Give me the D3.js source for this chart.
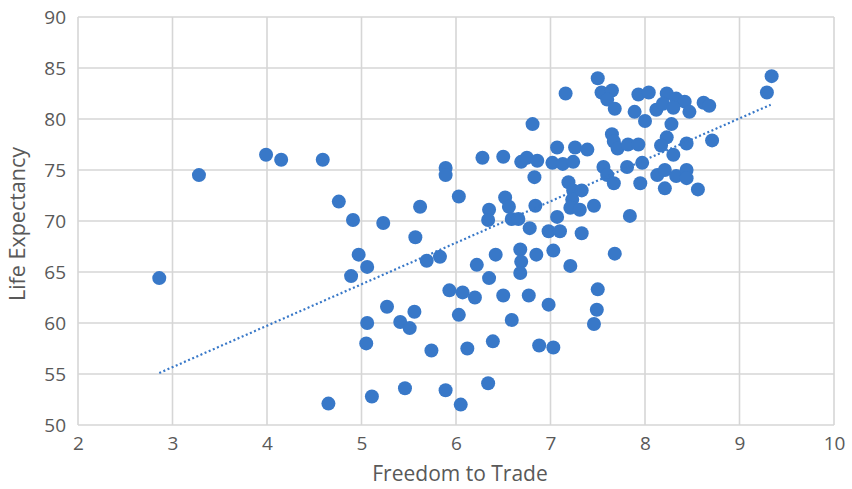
<!DOCTYPE html>
<html>
<head>
<meta charset="utf-8">
<script src="https://cdn.jsdelivr.net/npm/d3@7"></script>
<style>
  html, body { margin: 0; padding: 0; background: #fff; }
  svg { display: block; }
  text { font-family: "Open Sans", "Noto Sans", sans-serif; fill: #595959; }
</style>
</head>
<body>
<svg id="chart" width="852" height="489"></svg>
<script>
// Freedom to Trade (x) vs Life Expectancy (y)
const freedom = [
  2.86, 3.28, 3.99, 4.15, 4.59, 4.65, 4.76, 4.91, 4.89, 4.97,
  5.06, 5.06, 5.05, 5.11, 5.23, 5.27, 5.41, 5.51, 5.56, 5.46,
  5.57, 5.62, 5.74, 5.69, 5.83, 5.89, 5.89, 5.89, 5.93, 6.03,
  6.03, 6.05, 6.07, 6.12, 6.20, 6.22, 6.28, 6.35, 6.34, 6.35,
  6.34, 6.39, 6.42, 6.50, 6.50, 6.52, 6.56, 6.59, 6.66, 6.59,
  6.68, 6.69, 6.68, 6.69, 6.75, 6.83, 6.86, 6.81, 6.84, 6.78,
  6.77, 6.85, 6.88, 7.03, 6.98, 7.03, 6.98, 7.10, 7.07, 7.07,
  7.02, 7.13, 7.16, 7.19, 7.21, 7.24, 7.23, 7.21, 7.31, 7.26,
  7.24, 7.33, 7.33, 7.39, 7.46, 7.50, 7.54, 7.65, 7.60, 7.68,
  7.93, 8.04, 7.89, 8.00, 8.12, 8.23, 8.33, 8.42, 8.19, 8.30,
  8.47, 8.28, 8.62, 8.68, 9.34, 9.29, 8.71, 8.44, 8.23, 8.17,
  8.30, 7.65, 7.67, 7.71, 7.82, 7.93, 7.56, 7.60, 7.67, 7.81,
  7.97, 7.95, 8.13, 8.21, 8.21, 8.33, 8.44, 8.44, 8.56, 7.84,
  7.68, 7.50, 7.49, 7.46
];
const lifeExp = [
  64.4, 74.5, 76.5, 76.0, 76.0, 52.1, 71.9, 70.1, 64.6, 66.7,
  65.5, 60.0, 58.0, 52.8, 69.8, 61.6, 60.1, 59.5, 61.1, 53.6,
  68.4, 71.4, 57.3, 66.1, 66.5, 75.2, 74.5, 53.4, 63.2, 72.4,
  60.8, 52.0, 63.0, 57.5, 62.5, 65.7, 76.2, 71.1, 70.1, 64.4,
  54.1, 58.2, 66.7, 76.3, 62.7, 72.3, 71.4, 70.2, 70.2, 60.3,
  67.2, 66.0, 64.9, 75.8, 76.2, 74.3, 75.9, 79.5, 71.5, 69.3,
  62.7, 66.7, 57.8, 57.6, 61.8, 67.1, 69.0, 69.0, 70.4, 77.2,
  75.7, 75.6, 82.5, 73.8, 65.6, 73.0, 72.1, 71.3, 71.1, 77.2,
  75.8, 73.0, 68.8, 77.0, 71.5, 84.0, 82.6, 82.8, 81.9, 81.0,
  82.4, 82.6, 80.7, 79.8, 80.9, 82.5, 82.0, 81.7, 81.5, 81.1,
  80.7, 79.5, 81.6, 81.3, 84.2, 82.6, 77.9, 77.6, 78.2, 77.4,
  76.5, 78.5, 77.8, 77.1, 77.5, 77.5, 75.3, 74.5, 73.7, 75.3,
  75.7, 73.7, 74.5, 75.0, 73.2, 74.4, 75.0, 74.2, 73.1, 70.5,
  66.8, 63.3, 61.3, 59.9
];
// linear trendline end points (x, y)
const trendX = [2.86, 9.33];
const trendY = [55.1, 81.4];

const xTicks = [2, 3, 4, 5, 6, 7, 8, 9, 10];
const yTicks = [50, 55, 60, 65, 70, 75, 80, 85, 90];
const xTitle = "Freedom to Trade";
const yTitle = "Life Expectancy";

const W = 852, H = 489;
const m = { left: 78, right: 18, top: 17, bottom: 64 };
const iw = W - m.left - m.right, ih = H - m.top - m.bottom;

const svg = d3.select("#chart");
const g = svg.append("g").attr("transform", `translate(${m.left},${m.top})`);

const x = d3.scaleLinear().domain([2, 10]).range([0, iw]);
const y = d3.scaleLinear().domain([50, 90]).range([ih, 0]);

const gridColor = "#d6d6d6";

// vertical gridlines
g.append("g").selectAll("line").data(xTicks).join("line")
  .attr("x1", d => x(d)).attr("x2", d => x(d))
  .attr("y1", 0).attr("y2", ih)
  .attr("stroke", gridColor).attr("stroke-width", 1.6);
// horizontal gridlines
g.append("g").selectAll("line").data(yTicks).join("line")
  .attr("x1", 0).attr("x2", iw)
  .attr("y1", d => y(d)).attr("y2", d => y(d))
  .attr("stroke", gridColor).attr("stroke-width", 1.6);

// axes (labels only)
const xAxis = g.append("g").attr("transform", `translate(0,${ih})`)
  .call(d3.axisBottom(x).tickValues(xTicks).tickSize(0).tickPadding(12).tickFormat(d3.format("d")));
const yAxis = g.append("g")
  .call(d3.axisLeft(y).tickValues(yTicks).tickSize(0).tickPadding(12).tickFormat(d3.format("d")));
[xAxis, yAxis].forEach(a => {
  a.select(".domain").remove();
  a.selectAll("text").attr("font-size", 19).attr("fill", "#595959")
    .attr("font-family", '"Open Sans", "Noto Sans", sans-serif');
});

// points
const pts = freedom.map((v, i) => ({ x: v, y: lifeExp[i] }));
g.append("g").selectAll("circle").data(pts).join("circle")
  .attr("cx", d => x(d.x)).attr("cy", d => y(d.y)).attr("r", 7)
  .attr("fill", "#3878c8");

// trendline
g.append("line")
  .attr("x1", x(trendX[0])).attr("y1", y(trendY[0]))
  .attr("x2", x(trendX[1])).attr("y2", y(trendY[1]))
  .attr("stroke", "#3878c8").attr("stroke-width", 2.2)
  .attr("stroke-dasharray", "2,2.5");

// axis titles
svg.append("text").attr("x", 460).attr("y", 481)
  .attr("text-anchor", "middle").attr("font-size", 21).text(xTitle);
svg.append("text")
  .attr("transform", `translate(25,224) rotate(-90)`)
  .attr("text-anchor", "middle").attr("font-size", 21.5).text(yTitle);
</script>
</body>
</html>
